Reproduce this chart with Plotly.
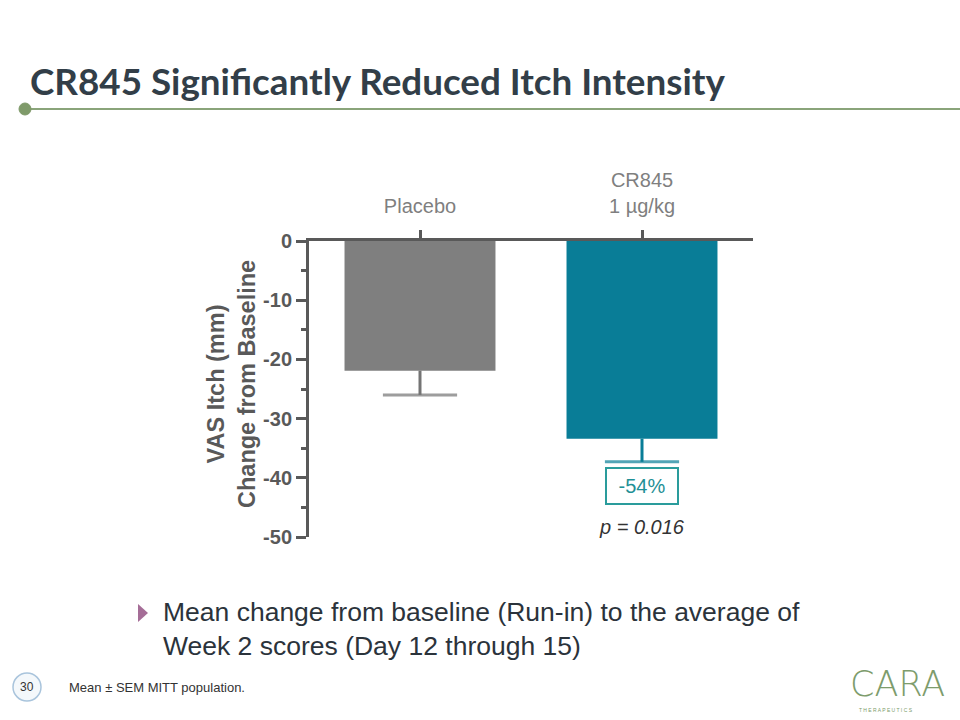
import plotly.graph_objects as go

# ---- data ----
categories = ["Placebo", "CR845<br>1 µg/kg"]
means = [-21.9, -33.4]
sems = [4.1, 3.9]
bar_colors = ["#7f7f7f", "#097d97"]
err_colors = ["#747474", "#097d97"]
y_ticks = [0, -10, -20, -30, -40, -50]
pct_label = "-54%"
p_label = "p = 0.016"

W, H = 960, 720
L, R, T, B = 309, 207, 241, 183
PW, PH = W - L - R, H - T - B


def px(x):
    return (x - L) / PW


def py(y):
    return (H - B - y) / PH


fig = go.Figure()
for i, cat in enumerate(categories):
    fig.add_trace(go.Bar(
        x=[cat], y=[means[i]],
        marker=dict(color=bar_colors[i], line=dict(width=0)),
        width=0.68, showlegend=False, hoverinfo="skip",
    ))
    # SEM whisker (downward only) with a cap at the end
    fig.add_trace(go.Scatter(
        x=[cat, cat], y=[means[i], means[i] - sems[i]],
        mode="lines+markers",
        line=dict(color=err_colors[i], width=3),
        marker=dict(symbol="line-ew-open", size=[0, 53],
                    line=dict(color=err_colors[i], width=3)),
        showlegend=False, hoverinfo="skip",
    ))

axis_col = "#595959"
fig.update_layout(
    width=W, height=H,
    margin=dict(l=L, r=R, t=T, b=B),
    paper_bgcolor="white", plot_bgcolor="white",
    font=dict(family="Liberation Sans, Arial, sans-serif"),
    xaxis=dict(
        side="top", type="category", range=[-0.5, 1.5],
        showline=True, linecolor=axis_col, linewidth=3,
        ticks="outside", ticklen=8, tickwidth=3, tickcolor=axis_col,
        tickfont=dict(size=20, color="#7f7f7f"), ticklabelstandoff=9,
        showgrid=False, zeroline=False,
    ),
    yaxis=dict(
        range=[-50, 0], tickvals=y_ticks, ticktext=[str(v) for v in y_ticks],
        showline=True, linecolor=axis_col, linewidth=3,
        ticks="outside", ticklen=10, tickwidth=3, tickcolor=axis_col,
        tickfont=dict(size=20, color=axis_col, weight="bold"), ticklabelstandoff=0,
        minor=dict(dtick=5, ticks="outside", ticklen=5, tickwidth=3, tickcolor=axis_col),
        showgrid=False, zeroline=False,
    ),
)

C = dict(xanchor="center", yanchor="middle", showarrow=False)
annotations = [
    # y-axis title
    dict(text="<b>VAS Itch (mm)<br>Change from Baseline</b>", xref="paper", yref="paper",
         x=px(231), y=py(384), textangle=-90, font=dict(size=23.5, color=axis_col),
         align="center", **C),
    # -54% box
    dict(text=pct_label, x=categories[1], y=means[1] - sems[1] - 4.0, xref="x", yref="y",
         font=dict(size=20, color="#1f9096"),
         bordercolor="#2a9c9c", borderwidth=2, borderpad=4, width=62, height=26, **C),
    # p value
    dict(text=f"<i>{p_label}</i>", x=categories[1], y=means[1] - sems[1] - 11.0, xref="x", yref="y",
         font=dict(size=20, color="#333333"), **C),
    # slide title
    dict(text="<b>CR845 Significantly Reduced Itch Intensity</b>", xref="paper", yref="paper",
         x=px(28), y=py(81), xanchor="left", yanchor="middle", showarrow=False,
         font=dict(size=36.8, color="#323e48", family="Lato, Liberation Sans, sans-serif")),
    # bullet text
    dict(text="Mean change from baseline (Run-in) to the average of<br>Week 2 scores (Day 12 through 15)",
         xref="paper", yref="paper", x=px(161), y=py(629), xanchor="left", yanchor="middle",
         align="left", showarrow=False, font=dict(size=26.5, color="#2b333b")),
    # footnote
    dict(text="Mean ± SEM MITT population.", xref="paper", yref="paper", x=px(67), y=py(687),
         xanchor="left", yanchor="middle", showarrow=False, font=dict(size=13, color="#333333")),
    # page number
    dict(text="30", xref="paper", yref="paper", x=px(27), y=py(687),
         font=dict(size=12, color="#333333"), **C),
    # logo
    dict(text="CARA", xref="paper", yref="paper", x=px(897), y=py(684),
         font=dict(size=35, color="#7d9c6c", family="DejaVu Sans, sans-serif", weight=300), **C),
    dict(text="T H E R A P E U T I C S", xref="paper", yref="paper", x=px(886), y=py(710),
         font=dict(size=5, color="#7d9c6c"), **C),
]
fig.update_layout(annotations=annotations)

shapes = [
    dict(type="line", xref="paper", yref="paper", x0=px(25), x1=px(960), y0=py(109), y1=py(109),
         line=dict(color="#8aa47a", width=2)),
    dict(type="circle", xref="paper", yref="paper", x0=px(19), x1=px(31), y0=py(115), y1=py(103),
         fillcolor="#7f9a6a", line=dict(color="#7f9a6a", width=1)),
    dict(type="circle", xref="paper", yref="paper", x0=px(13), x1=px(41), y0=py(701), y1=py(673),
         fillcolor="#f4f8fb", line=dict(color="#a9c4dc", width=1.5)),
    # bullet triangle
    dict(type="path", xref="paper", yref="paper",
         path=f"M {px(138)},{py(604)} L {px(148)},{py(613)} L {px(138)},{py(622)} Z",
         fillcolor="#a56d97", line=dict(width=0)),
]
fig.update_layout(shapes=shapes)

fig.write_html("out.html", config={"displayModeBar": False},
               post_script="document.body.style.margin='0';document.body.style.overflow='hidden';")
